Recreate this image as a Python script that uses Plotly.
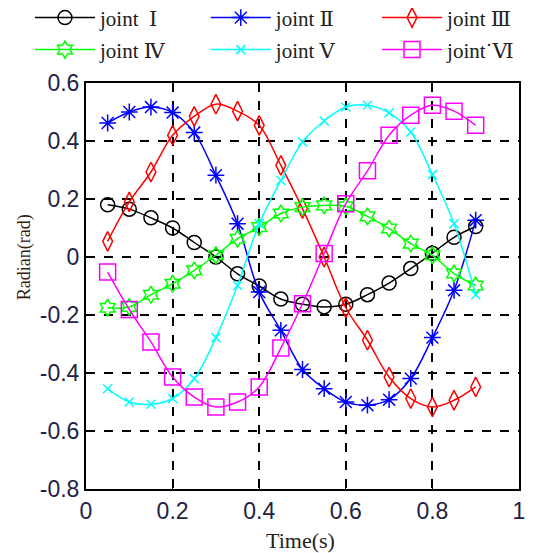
import plotly.graph_objects as go

time_s = [0.05, 0.10, 0.15, 0.20, 0.25, 0.30, 0.35, 0.40, 0.45,
          0.50, 0.55, 0.60, 0.65, 0.70, 0.75, 0.80, 0.85, 0.90]

joint1 = [0.18, 0.165, 0.135, 0.10, 0.05, 0.0, -0.058, -0.10, -0.145,
          -0.163, -0.172, -0.163, -0.13, -0.09, -0.04, 0.013, 0.068, 0.105]
joint2 = [0.462, 0.50, 0.517, 0.498, 0.429, 0.282, 0.115, -0.121, -0.253,
          -0.388, -0.454, -0.50, -0.511, -0.492, -0.419, -0.278, -0.115, 0.127]
joint3 = [0.054, 0.19, 0.293, 0.42, 0.485, 0.527, 0.503, 0.454, 0.316,
          0.167, 0.0, -0.175, -0.287, -0.414, -0.488, -0.517, -0.494, -0.448]
joint4 = [-0.175, -0.172, -0.13, -0.092, -0.046, 0.006, 0.063, 0.103, 0.15,
          0.172, 0.178, 0.175, 0.14, 0.098, 0.046, 0.006, -0.057, -0.098]
joint5 = [-0.454, -0.50, -0.508, -0.488, -0.42, -0.278, -0.098, 0.115, 0.264,
          0.397, 0.469, 0.517, 0.523, 0.497, 0.431, 0.284, 0.115, -0.13]
joint6 = [-0.052, -0.181, -0.293, -0.414, -0.483, -0.517, -0.50, -0.448, -0.314,
          -0.161, 0.012, 0.184, 0.297, 0.42, 0.489, 0.523, 0.503, 0.454]

names = ["joint  \u2160", "joint \u2161", "joint \u2162",
         "joint \u2163", "joint \u2164", "joint\u02d9\u2165"]
series = [joint1, joint2, joint3, joint4, joint5, joint6]
colors = ["#000000", "#0000FF", "#FF0000", "#00FF00", "#00FFFF", "#FF00FF"]
symbols = ["circle-open", "asterisk-open", "diamond-tall-open",
           "hexagram-open", "x-thin-open", "square-open"]
sizes = [14, 14, 14, 13, 9, 16]

x_ticks = [0, 0.2, 0.4, 0.6, 0.8, 1]
y_ticks = [-0.8, -0.6, -0.4, -0.2, 0, 0.2, 0.4, 0.6]
x_tick_text = ["0", "0.2", "0.4", "0.6", "0.8", "1"]
y_tick_text = ["-0.8", "-0.6", "-0.4", "-0.2", "0", "0.2", "0.4", "0.6"]

# legend placement (container fractions): 3 columns x 2 rows
leg_x = [0.0414, 0.3725, 0.695, 0.0414, 0.3725, 0.695]
leg_y = [0.9817, 0.9817, 0.9817, 0.923, 0.923, 0.923]

serif = "Liberation Serif, DejaVu Serif, Times New Roman, serif"

fig = go.Figure()
layout_legends = {}
for i, (name, ys, c, s, sz) in enumerate(zip(names, series, colors, symbols, sizes)):
    lname = "legend" if i == 0 else f"legend{i + 1}"
    fig.add_trace(go.Scatter(
        x=time_s, y=ys, name=name, mode="lines+markers", legend=lname,
        line=dict(color=c, width=1.5, shape="spline", smoothing=1),
        marker=dict(symbol=s, size=sz, color=c, line=dict(color=c, width=1.5)),
    ))
    layout_legends[lname] = dict(
        xref="container", yref="container",
        x=leg_x[i], y=leg_y[i], xanchor="left", yanchor="middle",
        itemwidth=60,
        font=dict(family=serif, size=21, color="#222222"),
        bgcolor="rgba(0,0,0,0)",
    )

axis_common = dict(
    showline=True, linecolor="black", linewidth=2, mirror=True,
    showgrid=True, gridcolor="black", griddash="dash", gridwidth=1.5,
    zeroline=False, ticks="inside", ticklen=5, tickcolor="black",
    tickfont=dict(family="Liberation Sans, Arial", size=23, color="#222244"),
)

fig.update_layout(
    width=531, height=545,
    margin=dict(l=78, r=20, t=75, b=64, autoexpand=False),
    paper_bgcolor="white", plot_bgcolor="white",
    xaxis=dict(range=[0, 1], tickvals=x_ticks, ticktext=x_tick_text,
               automargin=False, **axis_common),
    yaxis=dict(range=[-0.8, 0.6], tickvals=y_ticks, ticktext=y_tick_text,
               automargin=False, **axis_common),
    showlegend=True,
    annotations=[
        dict(text="Time(s)", xref="paper", yref="paper", x=0.495, y=-0.126,
             xanchor="center", yanchor="middle", showarrow=False,
             font=dict(family=serif, size=22, color="#222222")),
        dict(text="Radian(rad)", xref="paper", yref="paper", x=-0.143, y=0.571,
             xanchor="center", yanchor="middle", showarrow=False, textangle=-90,
             font=dict(family=serif, size=18, color="#332211")),
    ],
    **layout_legends,
)

fig.write_html("out.html")
